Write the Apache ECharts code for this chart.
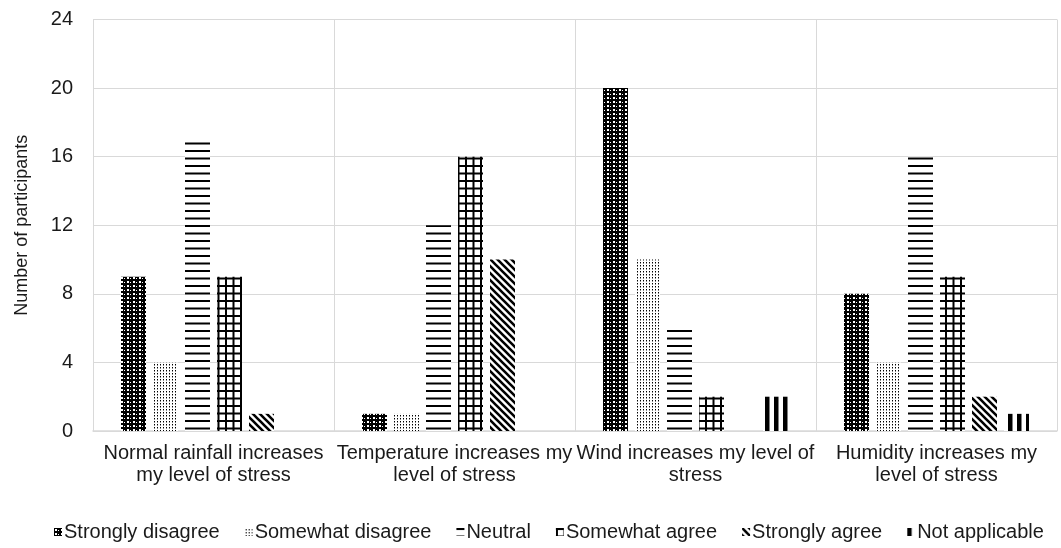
<!DOCTYPE html>
<html>
<head>
<meta charset="utf-8">
<title>Weather and stress</title>
<script src="https://cdn.jsdelivr.net/npm/echarts@6/dist/echarts.min.js"></script>
<style>
  html, body { margin: 0; padding: 0; background: #fff; }
  #chart { width: 1061px; height: 548px; }
</style>
</head>
<body>
<div id="chart"></div>
<script>
// Survey statements (x axis) and answer options (series)
const categories = [
  'Normal rainfall increases\nmy level of stress',
  'Temperature increases my\nlevel of stress',
  'Wind increases my level of\nstress',
  'Humidity increases my\nlevel of stress'
];
const seriesNames = ['Strongly disagree', 'Somewhat disagree', 'Neutral', 'Somewhat agree', 'Strongly agree', 'Not applicable'];

// Number of participants per answer, one value per statement
const stronglyDisagree = [9, 1, 20, 8];
const somewhatDisagree = [4, 1, 10, 4];
const neutral          = [17, 12, 6, 16];
const somewhatAgree    = [9, 16, 2, 9];
const stronglyAgree    = [1, 10, 0, 2];
const notApplicable    = [0, 0, 2, 1];

const yTicks = [0, 4, 8, 12, 16, 20, 24];

// ---- black & white fill patterns, one per answer ----
function tile(w, h, draw) {
  const c = document.createElement('canvas');
  c.width = w; c.height = h;
  const g = c.getContext('2d');
  g.fillStyle = '#fff';
  g.fillRect(0, 0, w, h);
  g.fillStyle = '#000';
  g.strokeStyle = '#000';
  draw(g, w, h);
  return c;
}
const patterns = [
  // dense dark weave
  tile(6, 4, g => {
    g.fillRect(0, 0, 6, 4);
    g.fillStyle = '#fff';
    g.fillRect(1, 1, 2, 2);
    g.fillRect(4, 2, 1, 1);
  }),
  // sparse dots
  tile(3, 3, g => {
    g.fillRect(1, 1, 1, 1);
    g.fillStyle = '#888';
    g.fillRect(1, 2, 1, 1);
  }),
  // horizontal lines
  tile(8, 15, g => { g.fillRect(0, 0, 8, 2); g.fillRect(0, 7.5, 8, 2); }),
  // square grid
  tile(15, 15, g => {
    g.fillRect(0, 0, 15, 2); g.fillRect(0, 7.5, 15, 2);
    g.fillRect(0, 0, 2, 15); g.fillRect(7.5, 0, 2, 15);
  }),
  // downward diagonals
  tile(7, 7, (g, s) => {
    g.lineWidth = 2.6;
    g.beginPath();
    g.moveTo(-1, -1); g.lineTo(s + 1, s + 1);
    g.moveTo(-1, s - 1); g.lineTo(1, s + 1);
    g.moveTo(s - 1, -1); g.lineTo(s + 1, 1);
    g.stroke();
  }),
  // thick vertical bars
  tile(9, 1, g => { g.fillRect(0, 0, 4.5, 1); })
];

const values = [stronglyDisagree, somewhatDisagree, neutral, somewhatAgree, stronglyAgree, notApplicable];
const FONT = 'Liberation Sans, Arial, Helvetica, sans-serif';
const TEXT = '#1a1a1a';
const GRID = '#d9d9d9';

const chart = echarts.init(document.getElementById('chart'), null, { renderer: 'canvas' });
chart.setOption({
  animation: false,
  backgroundColor: '#fff',
  textStyle: { fontFamily: FONT, color: TEXT },
  grid: { left: 93, right: 4, top: 19.5, bottom: 117, containLabel: false },
  legend: {
    data: seriesNames,
    left: 49,
    top: 517,
    itemWidth: 8,
    itemHeight: 8,
    itemGap: 25,
    icon: 'rect',
    textStyle: { fontFamily: FONT, fontSize: 20, color: TEXT, padding: [0, 0, 0, -3] }
  },
  xAxis: {
    type: 'category',
    data: categories,
    axisLine: { show: true, lineStyle: { color: GRID, width: 1.5 } },
    axisTick: { show: false },
    splitLine: { show: true, lineStyle: { color: GRID, width: 1 } },
    axisLabel: { fontFamily: FONT, fontSize: 20, color: TEXT, lineHeight: 22, margin: 11, interval: 0 }
  },
  yAxis: {
    type: 'value',
    min: yTicks[0],
    max: yTicks[yTicks.length - 1],
    interval: yTicks[1] - yTicks[0],
    name: 'Number of participants',
    nameLocation: 'middle',
    nameGap: 62,
    nameTextStyle: { fontFamily: FONT, fontSize: 18, color: TEXT },
    axisLine: { show: false },
    axisTick: { show: false },
    splitLine: { show: true, lineStyle: { color: GRID, width: 1 } },
    axisLabel: { fontFamily: FONT, fontSize: 20, color: TEXT, margin: 20 }
  },
  series: seriesNames.map((name, i) => ({
    name,
    type: 'bar',
    data: values[i],
    barWidth: 25,
    barGap: '28%',
    itemStyle: { color: { image: patterns[i], repeat: 'repeat' } },
    emphasis: { disabled: true }
  }))
});
</script>
</body>
</html>
